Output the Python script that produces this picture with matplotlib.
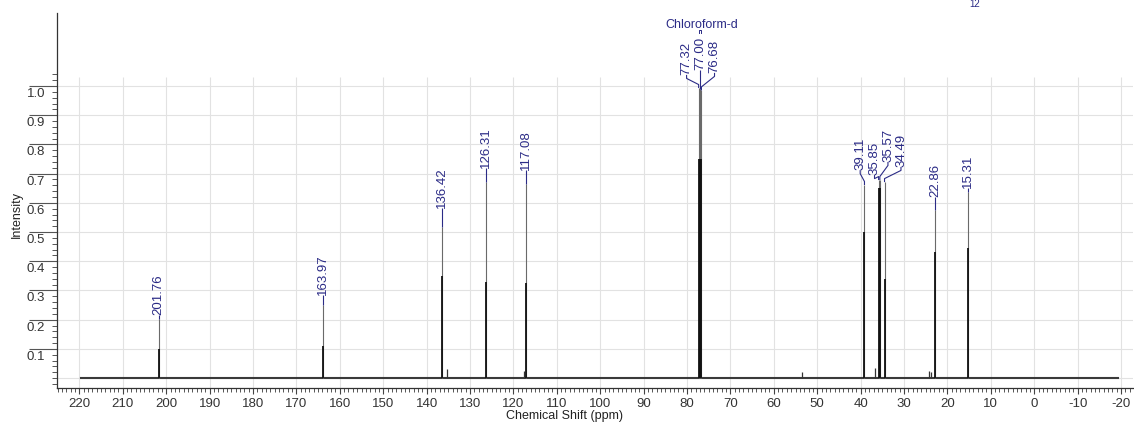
import matplotlib
matplotlib.use('Agg')
import matplotlib.pyplot as plt
from matplotlib.ticker import FixedLocator, NullFormatter
from matplotlib.transforms import ScaledTranslation

plt.rcParams['font.family'] = ['Liberation Sans', 'DejaVu Sans']

# ---------------- data ----------------
peak_ppm = [201.76, 163.97, 136.42, 126.31, 117.08, 77.32, 77.00, 76.68,
            39.11, 35.85, 35.57, 34.49, 22.86, 15.31]
peak_height = [0.202, 0.250, 0.517, 0.672, 0.664, 0.993, 0.990, 0.985,
               0.661, 0.678, 0.678, 0.671, 0.575, 0.637]
peak_core = [0.10, 0.11, 0.35, 0.33, 0.325, 0.75, 0.75, 0.75,
             0.50, 0.65, 0.65, 0.34, 0.43, 0.445]
peak_labels = ['201.76', '163.97', '136.42', '126.31', '117.08', '77.32', '77.00', '76.68',
               '39.11', '35.85', '35.57', '34.49', '22.86', '15.31']

impurity_ppm = [135.3, 117.6, 53.4, 36.7, 24.3, 23.8]
impurity_height = [0.030, 0.025, 0.020, 0.035, 0.025, 0.020]

baseline_ppm = [219.6, -19.3]
baseline_val = [0.0, 0.0]

x_ticks = [220, 210, 200, 190, 180, 170, 160, 150, 140, 130, 120, 110, 100,
           90, 80, 70, 60, 50, 40, 30, 20, 10, 0, -10, -20]
x_tick_labels = [str(v) for v in x_ticks]
y_ticks = [0.1, 0.2, 0.3, 0.4, 0.5, 0.6, 0.7, 0.8, 0.9, 1.0]
y_tick_labels = ['0.1', '0.2', '0.3', '0.4', '0.5', '0.6', '0.7', '0.8', '0.9', '1.0']

solvent_name = 'Chloroform-d'
solvent_group = ['77.32', '77.00', '76.68']
corner_text = '12'

# ---------------- layout (label placement) ----------------
label_x = [201.76, 163.97, 136.42, 126.31, 117.08, 80.1, 77.0, 73.66,
           40.1, 36.8, 33.7, 30.7, 22.86, 15.31]
label_y = [0.216, 0.284, 0.582, 0.719, 0.712, 1.038, 1.055, 1.045,
           0.712, 0.695, 0.740, 0.723, 0.620, 0.650]

navy = '#2b2b86'
W, H = 1134, 428
fig = plt.figure(figsize=(W / 100, H / 100), dpi=100)
ax = fig.add_axes([57 / W, (428 - 388) / H, (1133 - 57) / W, (388 - 13) / H])

XL = (225.16, -22.76)
YL = (-0.034, 1.25)
ax.set_xlim(*XL)
ax.set_ylim(*YL)

# grid
ax.vlines(x_ticks, YL[0], 1.03, color='#e2e2e2', lw=0.8, zorder=0)
ax.hlines([0.0] + y_ticks, XL[0], XL[1], color='#e2e2e2', lw=0.8, zorder=0)

# spectrum
ax.plot(baseline_ppm, baseline_val, color='#3a3a3a', lw=1.5, zorder=2)
ax.vlines(impurity_ppm, 0, impurity_height, color='#333333', lw=0.9, zorder=2)
ax.vlines(peak_ppm, 0, peak_height, color='#6a6a6a', lw=0.8, zorder=3)
ax.vlines(peak_ppm, 0, peak_core, color='#111111', lw=1.3, zorder=3)

# labels and connectors
d = 0.012
for p, h, lab, lx, ly in zip(peak_ppm, peak_height, peak_labels, label_x, label_y):
    if abs(lx - p) < 1e-6:
        xs, ys = [p, p], [ly, h]
    else:
        xs = [lx, lx, p, p]
        ys = [ly, ly - d, h + d, h]
    ax.plot(xs, ys, color=navy, lw=0.8, zorder=4, solid_capstyle='butt')
    ax.text(lx, ly, lab, rotation=90, ha='center', va='bottom', color=navy,
            fontsize=9.5, zorder=5)

# solvent group label
grp = [peak_ppm[peak_labels.index(s)] for s in solvent_group]
gx0, gx1 = max(grp), min(grp)
ax.plot([gx0, gx0, gx1, gx1], [1.180, 1.193, 1.193, 1.180], color=navy, lw=0.7)
ax.text((gx0 + gx1) / 2 - 0.5, 1.200, solvent_name, ha='center', va='baseline',
        color=navy, fontsize=9)

fig.text(975 / W, (428 - 7) / H, corner_text, color=navy, fontsize=7,
         ha='center', va='baseline')

# axes styling
for s in ['top', 'right']:
    ax.spines[s].set_visible(False)
for s in ['left', 'bottom']:
    ax.spines[s].set_color('#333333')
    ax.spines[s].set_linewidth(0.9)

ax.xaxis.set_major_locator(FixedLocator(x_ticks))
ax.set_xticklabels(x_tick_labels)
ax.xaxis.set_minor_locator(FixedLocator([v for v in range(225, -23, -1)]))
ax.tick_params(axis='x', which='major', direction='out', length=4.5, width=0.8,
               colors='#444444', labelcolor='#333333', labelsize=9.5, pad=3)
ax.tick_params(axis='x', which='minor', direction='out', length=3, width=0.7, colors='#555555')

ax.yaxis.set_major_locator(FixedLocator(y_ticks))
ax.set_yticklabels(y_tick_labels)
ax.yaxis.set_minor_locator(FixedLocator([i * 0.02 for i in range(-1, 53)]))
ax.yaxis.set_minor_formatter(NullFormatter())
ax.tick_params(axis='y', which='major', direction='out', length=20, width=0.8,
               colors='#555555', labelcolor='#333333', labelsize=9.5, pad=-11.5)
ax.tick_params(axis='y', which='minor', direction='out', length=3.6, width=0.7, colors='#555555')
off = ScaledTranslation(0, -0.065, fig.dpi_scale_trans)
for t in ax.get_yticklabels():
    t.set_transform(t.get_transform() + off)

ax.set_xlabel('Chemical Shift (ppm)', fontsize=9, color='#222222')
ax.xaxis.set_label_coords((565 - 57) / 1076, -0.058)
ax.set_ylabel('Intensity', fontsize=9, color='#222222')
ax.yaxis.set_label_coords(-0.032, (388 - 215) / 375)

fig.savefig('out.png', dpi=100)
